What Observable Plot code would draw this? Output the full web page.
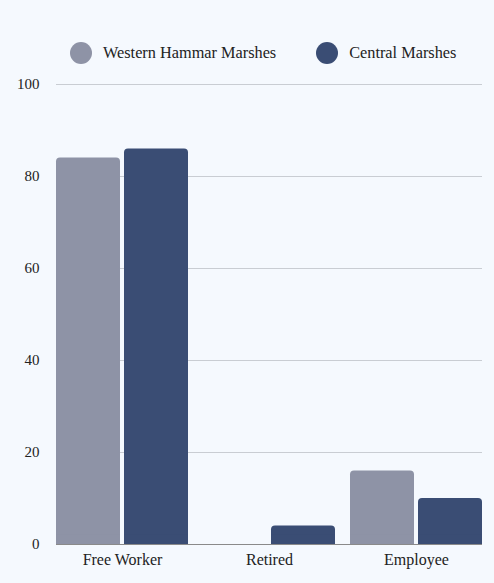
<!DOCTYPE html>
<html>
<head>
<meta charset="utf-8">
<script src="https://cdn.jsdelivr.net/npm/d3@7"></script>
<script src="https://cdn.jsdelivr.net/npm/@observablehq/plot@0.6"></script>
<style>
  html, body { margin: 0; padding: 0; background: #f5f9fe; }
  body { width: 494px; height: 583px; overflow: hidden; font-family: "Liberation Serif", serif; }
  #legend { height: 70px; box-sizing: border-box; padding-top: 36px; padding-left: 70px; display: flex; align-items: center; white-space: nowrap; }
  .item { display: flex; align-items: center; flex: none; height: 22px; margin-right: 40px; font-size: 16.3px; color: #222; white-space: nowrap; font-family: "Liberation Serif", serif; }
  .sw { width: 22px; height: 22px; border-radius: 50%; margin-right: 11px; flex: none; }
</style>
</head>
<body>
<div id="legend"></div>
<div id="chart"></div>
<script>
const categories = ["Free Worker", "Retired", "Employee"];
const seriesNames = ["Western Hammar Marshes", "Central Marshes"];
const westernValues = [84, 0, 16];
const centralValues = [86, 4, 10];
const seriesColors = ["#8e93a6", "#3a4d74"];
const yTicks = [0, 20, 40, 60, 80, 100];

const data = [];
categories.forEach((c, i) => {
  data.push({category: c, series: seriesNames[0], value: westernValues[i]});
  data.push({category: c, series: seriesNames[1], value: centralValues[i]});
});

// grid rows per facet (lines continue through the gap to the next facet)
const lastCat = categories[categories.length - 1];
const gridRows = [];
categories.forEach(c => yTicks.forEach(t => gridRows.push({category: c, tick: t})));
const innerRows = gridRows.filter(d => d.category !== lastCat);
const lastRows = gridRows.filter(d => d.category === lastCat);

const legend = document.getElementById("legend");
seriesNames.forEach((s, i) => {
  const it = document.createElement("div");
  it.className = "item";
  const sw = document.createElement("span");
  sw.className = "sw";
  sw.style.background = seriesColors[i];
  it.appendChild(sw);
  it.appendChild(document.createTextNode(s));
  legend.appendChild(it);
});

const chart = Plot.plot({
  width: 494,
  height: 513,
  marginTop: 14,
  marginBottom: 39,
  marginLeft: 55,
  marginRight: 11,
  style: {background: "transparent", fontFamily: "'Liberation Serif', serif", fontSize: "15px", color: "#222"},
  fx: {domain: categories, paddingInner: 0.1, paddingOuter: 0, label: null},
  x: {domain: seriesNames, paddingInner: 0.06, paddingOuter: 0, axis: null},
  y: {domain: [0, 100], label: null},
  color: {domain: seriesNames, range: seriesColors},
  marks: [
    Plot.ruleY(innerRows.filter(d => d.tick > 0), {fx: "category", y: "tick", stroke: "#c9cdd3", insetRight: -16}),
    Plot.ruleY(lastRows.filter(d => d.tick > 0), {fx: "category", y: "tick", stroke: "#c9cdd3"}),
    Plot.axisY({ticks: yTicks, tickSize: 0, tickPadding: 17, label: null, fontSize: 15, fontFamily: "'Liberation Serif', serif"}),
    Plot.axisFx({anchor: "bottom", tickSize: 0, tickPadding: 9, label: null, fontSize: 16, fontFamily: "'Liberation Serif', serif"}),
    Plot.barY(data, {fx: "category", x: "series", y: "value", fill: "series", rx: 4}),
    Plot.barY(data, {fx: "category", x: "series", y1: 0, y2: d => Math.min(d.value, 2), fill: "series"}),
    Plot.ruleY(innerRows.filter(d => d.tick === 0), {fx: "category", y: "tick", stroke: "#8a8a8a", insetRight: -16}),
    Plot.ruleY(lastRows.filter(d => d.tick === 0), {fx: "category", y: "tick", stroke: "#8a8a8a"})
  ]
});
document.getElementById("chart").appendChild(chart);
</script>
</body>
</html>
